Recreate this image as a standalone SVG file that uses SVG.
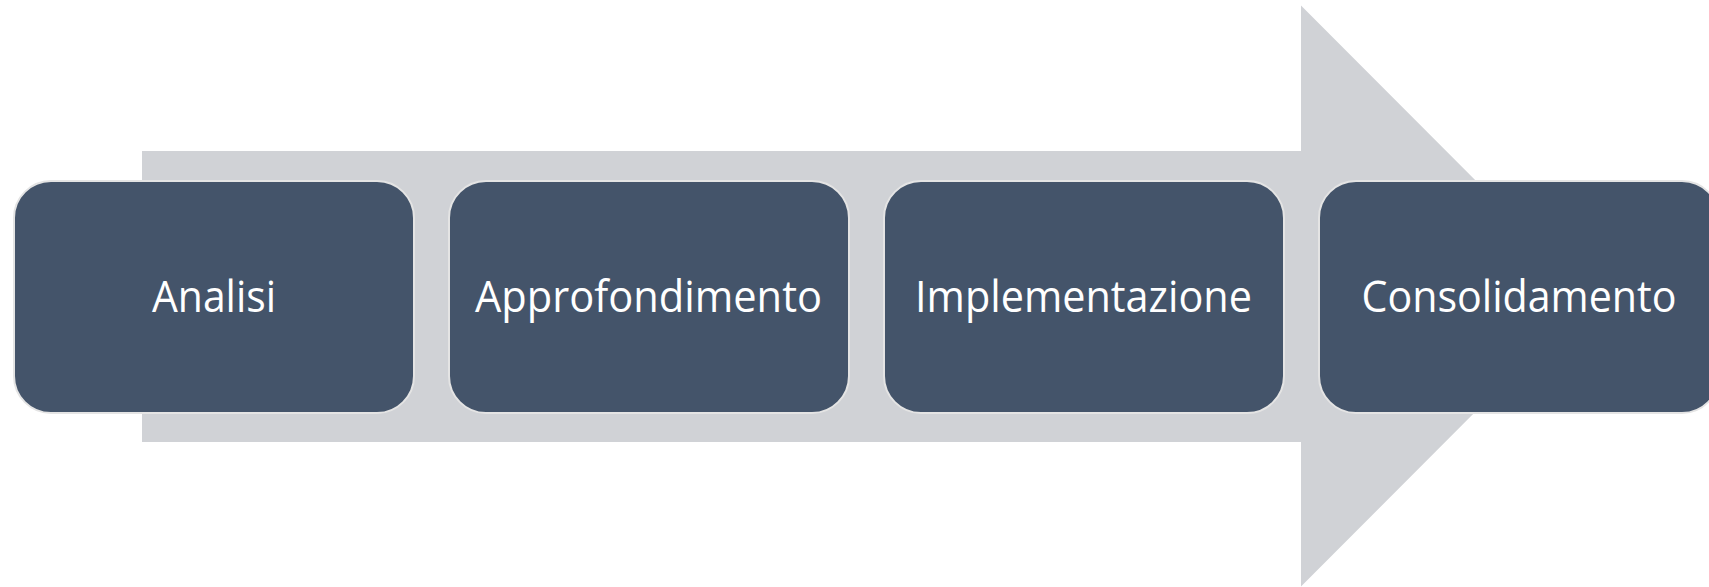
<svg xmlns="http://www.w3.org/2000/svg" width="1709" height="587" viewBox="0 0 1709 587">
<style>
.box{fill:#44546A;stroke:#E4E4E4;stroke-width:2}
.lbl{fill:#FFFFFF;font-family:"Open Sans","Noto Sans",sans-serif;font-size:44px;text-anchor:middle}
</style>
<rect width="1709" height="587" fill="#FFFFFF"/>
<g id="connectors">
<polygon id="arrow" points="142,151 1301,151 1301,5.5 1591,296 1301,586.5 1301,442 142,442" fill="#D0D2D6"/>
</g>
<g id="node1">
<rect class="box" x="14" y="181" width="400" height="232" rx="37" ry="37"/>
<text class="lbl" x="214" y="311.5" textLength="124" lengthAdjust="spacingAndGlyphs">Analisi</text>
</g>
<g id="node2">
<rect class="box" x="449" y="181" width="400" height="232" rx="37" ry="37"/>
<text class="lbl" x="648.5" y="311.5" textLength="347" lengthAdjust="spacingAndGlyphs">Approfondimento</text>
</g>
<g id="node3">
<rect class="box" x="884" y="181" width="400" height="232" rx="37" ry="37"/>
<text class="lbl" x="1083.5" y="311.5" textLength="337" lengthAdjust="spacingAndGlyphs">Implementazione</text>
</g>
<g id="node4">
<rect class="box" x="1319" y="181" width="400" height="232" rx="37" ry="37"/>
<text class="lbl" x="1519" y="311.5" textLength="315" lengthAdjust="spacingAndGlyphs">Consolidamento</text>
</g>
</svg>
